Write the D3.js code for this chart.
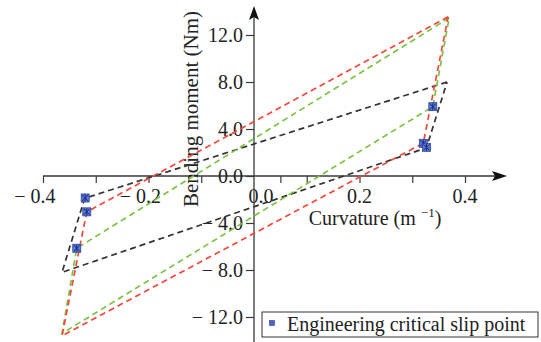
<!DOCTYPE html>
<html>
<head>
<meta charset="utf-8">
<script src="https://cdn.jsdelivr.net/npm/d3@7"></script>
<style>
  html, body { margin: 0; padding: 0; background: #fff; }
  svg { display: block; }
  text { font-family: "Liberation Serif", "Times New Roman", serif; fill: #222; }
</style>
</head>
<body>
<svg id="chart" width="541" height="342"></svg>
<script>
// ---- Data ----
const xTickValues = [-0.4, -0.3, -0.2, -0.1, 0.05, 0.1, 0.2, 0.3, 0.4];
const xTickLabels = ["− 0.4", "", "− 0.2", "", "", "", "0.2", "", "0.4"];
const yTickValues = [12, 8, 4, 0, -4, -8, -12];
const yTickLabels = ["12.0", "8.0", "4.0", "0.0", "− 4.0", "− 8.0", "− 12.0"];

const blackCurvature = [0.366, -0.321, -0.364, 0.327, 0.366];
const blackMoment    = [8.0, -1.9, -8.2, 2.4, 8.0];
const greenCurvature = [0.370, -0.336, -0.364, 0.339, 0.370];
const greenMoment    = [13.45, -6.15, -13.4, 5.9, 13.45];
const redCurvature   = [0.368, -0.317, -0.364, 0.321, 0.368];
const redMoment      = [13.55, -3.05, -13.6, 2.8, 13.55];

const slipCurvature = [-0.320, -0.317, -0.336, 0.321, 0.327, 0.339];
const slipMoment    = [-1.87, -3.05, -6.15, 2.78, 2.44, 5.9];

const legendLabel = "Engineering critical slip point";

// ---- Chart ----
const svg = d3.select("#chart");
const x = d3.scaleLinear().domain([-0.4, 0.4]).range([43, 465]);
const y = d3.scaleLinear().domain([-12, 12]).range([317, 35]);
const axisColor = "#3a3a3a";

// Axes
const xAxis = d3.axisBottom(x).tickValues(xTickValues).tickSize(7).tickFormat("");
const gx = svg.append("g").attr("transform", `translate(0,${y(0)})`).call(xAxis);
gx.select(".domain").remove();
gx.selectAll(".tick line").attr("stroke", axisColor).attr("stroke-width", 1.2);
svg.append("line")
  .attr("x1", x(-0.4)).attr("x2", 500)
  .attr("y1", y(0)).attr("y2", y(0))
  .attr("stroke", axisColor).attr("stroke-width", 1.3);
svg.append("path")
  .attr("d", `M507,${y(0)} L492,${y(0) - 5} L495,${y(0)} L492,${y(0) + 5} Z`)
  .attr("fill", "#111");

xTickValues.forEach((v, i) => {
  if (!xTickLabels[i]) return;
  svg.append("text")
    .attr("x", x(v) + 12.5).attr("y", 203)
    .attr("text-anchor", "end")
    .attr("font-size", 20)
    .text(xTickLabels[i]);
});
svg.append("text")
  .attr("x", x(0) + 7).attr("y", 203)
  .attr("text-anchor", "middle")
  .attr("font-size", 20)
  .text("0.0");

const yAxis = d3.axisLeft(y).tickValues(yTickValues).tickSize(8).tickFormat("");
const gy = svg.append("g").attr("transform", `translate(${x(0)},0)`).call(yAxis);
gy.select(".domain").remove();
gy.selectAll(".tick line").attr("stroke", axisColor).attr("stroke-width", 1.2);
svg.append("line")
  .attr("x1", x(0)).attr("x2", x(0))
  .attr("y1", 14).attr("y2", 342)
  .attr("stroke", axisColor).attr("stroke-width", 1.3);
svg.append("path")
  .attr("d", `M${x(0)},6 L${x(0) - 5},20 L${x(0)},17 L${x(0) + 5},20 Z`)
  .attr("fill", "#111");

yTickValues.forEach((v, i) => {
  svg.append("text")
    .attr("x", 243).attr("y", y(v) + 6.5)
    .attr("text-anchor", "end")
    .attr("font-size", 20)
    .text(yTickLabels[i]);
});

// Axis titles
const xt = svg.append("text")
  .attr("x", 375).attr("y", 225)
  .attr("text-anchor", "middle")
  .attr("font-size", 20);
xt.append("tspan").text("Curvature (m ");
xt.append("tspan").attr("font-size", 13).attr("dy", -8).text("−1");
xt.append("tspan").attr("dy", 8).text(")");

svg.append("text")
  .attr("transform", `translate(198,109) rotate(-90)`)
  .attr("text-anchor", "middle")
  .attr("font-size", 21)
  .text("Bending moment (Nm)");

// Loops
const line = d3.line().x(d => x(d[0])).y(d => y(d[1]));
const loops = [
  { c: blackCurvature, m: blackMoment, color: "#333333" },
  { c: greenCurvature, m: greenMoment, color: "#7cc443" },
  { c: redCurvature,   m: redMoment,   color: "#f4493a" }
];
loops.forEach(L => {
  const pts = L.c.map((v, i) => [v, L.m[i]]);
  svg.append("path")
    .attr("d", line(pts))
    .attr("fill", "none")
    .attr("stroke", L.color)
    .attr("stroke-width", 1.7)
    .attr("stroke-dasharray", "6,4");
});

// Slip points
const slip = slipCurvature.map((v, i) => [v, slipMoment[i]]);
const mg = svg.append("g");
slip.forEach(p => {
  const cx = x(p[0]), cy = y(p[1]);
  mg.append("rect")
    .attr("x", cx - 4).attr("y", cy - 4)
    .attr("width", 8).attr("height", 8)
    .attr("fill", "#5a78d0").attr("stroke", "#2c42a0").attr("stroke-width", 0.8);
  mg.append("path")
    .attr("d", `M${cx - 3},${cy - 3} L${cx + 3},${cy + 3} M${cx - 3},${cy + 3} L${cx + 3},${cy - 3} M${cx},${cy - 3.5} L${cx},${cy + 3.5}`)
    .attr("stroke", "#1c2a80").attr("stroke-width", 1);
});

// Legend
svg.append("rect")
  .attr("x", 262).attr("y", 312).attr("width", 276).attr("height", 25)
  .attr("fill", "#fff").attr("stroke", "#333").attr("stroke-width", 1);
svg.append("rect")
  .attr("x", 269.5).attr("y", 320.5).attr("width", 5).attr("height", 5)
  .attr("fill", "#4a64c4").attr("stroke", "#2c42a0").attr("stroke-width", 0.6);
svg.append("text")
  .attr("x", 287).attr("y", 331)
  .attr("font-size", 20)
  .text(legendLabel);
</script>
</body>
</html>
